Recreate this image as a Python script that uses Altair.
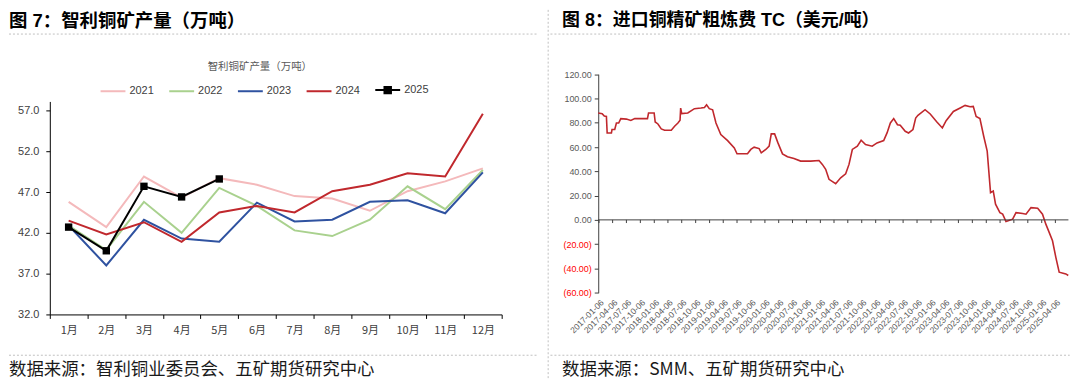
import altair as alt
import pandas as pd

FONT = "Noto Sans CJK SC"
NUM_FONT = "Liberation Sans"
TITLE_FONT = "Liberation Sans, Noto Sans CJK SC"

FIG7_TITLE = "图 7：智利铜矿产量（万吨）"
FIG8_TITLE = "图 8：进口铜精矿粗炼费 TC（美元/吨）"
CHART7_TITLE = "智利铜矿产量（万吨）"
SOURCE7 = "数据来源：智利铜业委员会、五矿期货研究中心"
SOURCE8 = "数据来源：SMM、五矿期货研究中心"

# ---------------- Figure 7 data ----------------
MONTHS = ["1月", "2月", "3月", "4月", "5月", "6月", "7月", "8月", "9月", "10月", "11月", "12月"]
YEARS = ["2021", "2022", "2023", "2024", "2025"]
COLORS = ["#F4B9BB", "#A9D18E", "#2F52A0", "#C0282D", "#000000"]
V2021 = [45.8, 42.7, 48.9, 46.3, 48.7, 47.9, 46.5, 46.2, 44.7, 47.1, 48.3, 49.9]
V2022 = [42.9, 39.9, 45.8, 42.0, 47.5, 45.3, 42.3, 41.6, 43.6, 47.7, 44.9, 49.7]
V2023 = [42.9, 38.0, 43.6, 41.3, 40.9, 45.7, 43.4, 43.6, 45.8, 46.0, 44.4, 49.4]
V2024 = [43.5, 41.8, 43.3, 40.9, 44.5, 45.3, 44.5, 47.1, 47.9, 49.3, 48.9, 56.6]
V2025 = [42.7, 39.8, 47.7, 46.4, 48.6]
Y7_TICKS = [32.0, 37.0, 42.0, 47.0, 52.0, 57.0]

# ---------------- Figure 8 data ----------------
TC_DATES = [
    "2017-01-01", "2017-01-27", "2017-02-10", "2017-02-24", "2017-03-01", "2017-03-29",
    "2017-04-02", "2017-04-20", "2017-05-01", "2017-05-16", "2017-05-30", "2017-07-06",
    "2017-08-04", "2017-08-30", "2017-11-22", "2017-11-29", "2018-01-05", "2018-01-12",
    "2018-01-30", "2018-02-21", "2018-03-15", "2018-04-28", "2018-05-20", "2018-06-11",
    "2018-06-25", "2018-06-29", "2018-07-06", "2018-08-15", "2018-09-28", "2018-11-10",
    "2018-12-03", "2018-12-17", "2019-01-04", "2019-01-26", "2019-02-17", "2019-03-21",
    "2019-05-05", "2019-06-18", "2019-07-06", "2019-07-31", "2019-09-13", "2019-10-05",
    "2019-10-27", "2019-11-29", "2019-12-13", "2020-01-12", "2020-02-03", "2020-02-17",
    "2020-03-10", "2020-04-01", "2020-05-01", "2020-06-03", "2020-07-16", "2020-08-29",
    "2020-11-03", "2020-12-28", "2021-01-19", "2021-02-10", "2021-03-04", "2021-04-17",
    "2021-05-20", "2021-06-22", "2021-07-14", "2021-08-05", "2021-09-07", "2021-10-02",
    "2021-10-31", "2021-12-14", "2022-01-15", "2022-02-28", "2022-03-22", "2022-04-13",
    "2022-05-05", "2022-05-30", "2022-06-17", "2022-07-20", "2022-08-11", "2022-09-09",
    "2022-09-27", "2022-10-12", "2022-11-28", "2023-01-01", "2023-02-14", "2023-03-22",
    "2023-04-16", "2023-06-03", "2023-07-24", "2023-08-19", "2023-09-21", "2023-10-12",
    "2023-10-31", "2023-11-25", "2023-12-20", "2024-01-12", "2024-02-03", "2024-02-21",
    "2024-03-07", "2024-04-05", "2024-04-23", "2024-05-15", "2024-06-28", "2024-07-20",
    "2024-09-02", "2024-09-24", "2024-10-27", "2024-12-10", "2025-01-11", "2025-02-02",
    "2025-02-24", "2025-03-18", "2025-04-09", "2025-05-01", "2025-06-14", "2025-06-30",
]
TC_VALUES = [
    88.0, 87.5, 85.5, 85.2, 71.6, 71.6,
    74.4, 74.4, 79.8, 79.8, 83.4, 83.0,
    81.9, 83.4, 83.4, 88.0, 88.0, 80.6,
    79.0, 74.9, 73.8, 73.8, 77.1, 79.8,
    82.0, 92.1, 87.5, 88.0, 91.6, 92.1,
    92.6, 94.8, 91.6, 90.7, 79.8, 70.2,
    65.3, 59.3, 54.4, 54.4, 54.4, 58.0,
    59.9, 58.7, 55.2, 58.0, 60.7, 70.8,
    70.8, 63.4, 54.4, 52.0, 50.6, 48.4,
    48.4, 48.9, 45.7, 41.6, 33.4, 29.8,
    34.7, 37.9, 45.7, 58.0, 60.7, 65.6,
    62.0, 60.7, 63.4, 65.3, 71.6, 79.8,
    83.4, 78.4, 77.9, 73.0, 71.6, 74.4,
    83.9, 86.1, 90.7, 87.2, 80.6, 75.7,
    81.7, 89.3, 92.6, 94.3, 93.2, 93.5,
    85.2, 83.4, 68.9, 56.6, 22.4, 23.8,
    12.9, 6.0, 4.7, -1.3, 0.6, 6.0,
    5.2, 4.7, 10.1, 9.6, 4.7, -3.5,
    -10.3, -17.2, -30.8, -43.1, -44.5, -45.8,
]
TC_TICKS = [f"{y}-{m:02d}-06" for y in range(2017, 2026) for m in (1, 4, 7, 10)][:34]
Y8_TICKS = [-60, -40, -20, 0, 20, 40, 60, 80, 100, 120]

# ---------------- tables ----------------
rows = []
for yr, vals in zip(YEARS, [V2021, V2022, V2023, V2024, V2025]):
    for m, v in zip(MONTHS, vals):
        rows.append({"year": yr, "month": m, "value": v})
df7 = pd.DataFrame(rows)
df7_2025 = df7[df7["year"] == "2025"]

df8 = pd.DataFrame({"date": TC_DATES, "tc": TC_VALUES})
df_ticks = pd.DataFrame({"d": TC_TICKS})
one = pd.DataFrame({"k": [0]})

GRID = "#BFBFBF"
TITLE_Y = -80.5
SRC_Y = 270
BOT_Y = 255

# ---------------- Left panel ----------------
W7, H7 = 454, 214
x7 = alt.X(
    "month:O", sort=MONTHS, bandPosition=0.5,
    scale=alt.Scale(type="band", domain=MONTHS, paddingInner=0, paddingOuter=0),
    axis=alt.Axis(title=None, tickBand="extent", labelAngle=0, labelFontSize=11,
                  labelFont=FONT, labelColor="#404040", domainColor="#000000",
                  tickColor="#000000", tickSize=4, labelPadding=6, grid=False),
)
y7 = alt.Y(
    "value:Q", scale=alt.Scale(domain=[32, 58.1], nice=False, zero=False),
    axis=alt.Axis(title=None, values=Y7_TICKS, format=".1f", labelFontSize=11,
                  labelFont=NUM_FONT, labelColor="#404040", domainColor="#000000",
                  tickColor="#000000", tickSize=4, labelPadding=7, grid=False),
)
SQ = ("M-1,0L1,0M-0.26,-0.26L0.26,-0.26L0.26,0.26L-0.26,0.26Z"
      "M-0.1,-0.1L0.1,-0.1L0.1,0.1L-0.1,0.1Z")
color7 = alt.Color(
    "year:N", scale=alt.Scale(domain=YEARS, range=COLORS),
    legend=alt.Legend(
        title=None, orient="none", direction="horizontal", legendX=50, legendY=-25,
        symbolType=alt.ExprRef(expr=f"datum.value === '2025' ? '{SQ}' : 'stroke'"),
        symbolSize=625, symbolStrokeWidth=2,
        labelFontSize=11, labelFont=NUM_FONT, labelColor="#404040",
        columnPadding=11, labelOffset=3,
    ),
)
lines7 = alt.Chart(df7).mark_line(strokeWidth=2).encode(x=x7, y=y7, color=color7)
pts7 = alt.Chart(df7_2025).mark_square(size=55, color="#000000", opacity=1).encode(x=x7, y=y7)

t7 = alt.Chart(pd.DataFrame({"t": [FIG7_TITLE]})).mark_text(
    align="left", baseline="middle", fontSize=18.5, fontWeight="bold", font=TITLE_FONT, color="#000000"
).encode(x=alt.value(-41), y=alt.value(TITLE_Y), text="t:N")
sub7 = alt.Chart(pd.DataFrame({"t": [CHART7_TITLE]})).mark_text(
    align="center", baseline="middle", fontSize=10.5, font=FONT, color="#595959"
).encode(x=alt.value(211), y=alt.value(-35), text="t:N")
src7 = alt.Chart(pd.DataFrame({"t": [SOURCE7]})).mark_text(
    align="left", baseline="middle", fontSize=17.5, font=FONT, color="#1a1a1a"
).encode(x=alt.value(-41), y=alt.value(SRC_Y), text="t:N")
top7 = alt.Chart(one).mark_rule(color=GRID, strokeDash=[2, 2], strokeWidth=1).encode(
    x=alt.value(-41), x2=alt.value(491), y=alt.value(-67.7))
bot7 = alt.Chart(one).mark_rule(color=GRID, strokeDash=[2, 2], strokeWidth=1).encode(
    x=alt.value(-41), x2=alt.value(491), y=alt.value(BOT_Y))

left = alt.layer(lines7, pts7, t7, sub7, src7, top7, bot7).properties(width=W7, height=H7)

# ---------------- Right panel ----------------
# plot origin shares the left panel's top; the y range reaches above it
W8, H8 = 472.4, 192.2
Y8_RANGE = [192.2, -27.4]
tick_dt = [alt.DateTime(year=int(s[:4]), month=int(s[5:7]), date=int(s[8:10])) for s in TC_TICKS]
x8_scale = alt.Scale(domain=[alt.DateTime(year=2017, month=1, date=1),
                             alt.DateTime(year=2025, month=7, date=1)])
y8_scale = alt.Scale(domain=[-60, 120], nice=False, range=Y8_RANGE)
x8_axis = alt.Axis(title=None, values=tick_dt, format="%Y-%m-%d", labelAngle=315,
                   labelFontSize=8.5, labelFont=NUM_FONT, labelColor="#595959",
                   domain=False, ticks=False, grid=False, labelPadding=5,
                   labelOverlap=False, labelBound=False, labelFlush=False)
y8_axis = alt.Axis(
    title=None, values=Y8_TICKS,
    labelExpr="datum.value < 0 ? '(' + format(-datum.value, '.2f') + ')' : format(datum.value, '.2f')",
    labelColor={"condition": {"test": "datum.value < 0", "value": "#FF0000"}, "value": "#595959"},
    labelFontSize=9, labelFont=NUM_FONT, tickSize=4, domainColor="#404040",
    tickColor="#404040", grid=False, labelPadding=3, labelOverlap=False)

line8 = alt.Chart(df8).mark_line(color="#C0282D", strokeWidth=1.6).encode(
    x=alt.X("date:T", scale=x8_scale, axis=x8_axis),
    y=alt.Y("tc:Q", scale=y8_scale, axis=y8_axis))
zero8 = alt.Chart(one).mark_rule(color="#404040", strokeWidth=1).encode(
    y=alt.YDatum(0, scale=y8_scale, axis=y8_axis))
ticks8 = alt.Chart(df_ticks).mark_rule(color="#404040", strokeWidth=1).encode(
    x=alt.X("d:T", scale=x8_scale, axis=x8_axis),
    y=alt.YDatum(0, scale=y8_scale, axis=y8_axis), y2=alt.datum(-2.6))

t8 = alt.Chart(pd.DataFrame({"t": [FIG8_TITLE]})).mark_text(
    align="left", baseline="middle", fontSize=18, fontWeight="bold", font=TITLE_FONT, color="#000000"
).encode(x=alt.value(-36.3), y=alt.value(TITLE_Y), text="t:N")
src8 = alt.Chart(pd.DataFrame({"t": [SOURCE8]})).mark_text(
    align="left", baseline="middle", fontSize=17.5, font=FONT, color="#1a1a1a"
).encode(x=alt.value(-36.3), y=alt.value(SRC_Y), text="t:N")
top8 = alt.Chart(one).mark_rule(color=GRID, strokeDash=[2, 2], strokeWidth=1).encode(
    x=alt.value(-48), x2=alt.value(473.7), y=alt.value(-67.7))
bot8 = alt.Chart(one).mark_rule(color=GRID, strokeDash=[2, 2], strokeWidth=1).encode(
    x=alt.value(-48), x2=alt.value(473.7), y=alt.value(BOT_Y))
vsep = alt.Chart(one).mark_rule(color=GRID, strokeDash=[2, 2], strokeWidth=1).encode(
    x=alt.value(-50.3), y=alt.value(-92), y2=alt.value(280))

right = alt.layer(line8, zero8, ticks8, t8, src8, top8, bot8, vsep).properties(width=W8, height=H8)

chart = (
    alt.hconcat(left, right, spacing=8)
    .properties(padding=0)
    .configure(font=FONT)
    .configure_view(stroke=None)
)
chart.save("out.html", embed_options={"renderer": "svg", "actions": False})
